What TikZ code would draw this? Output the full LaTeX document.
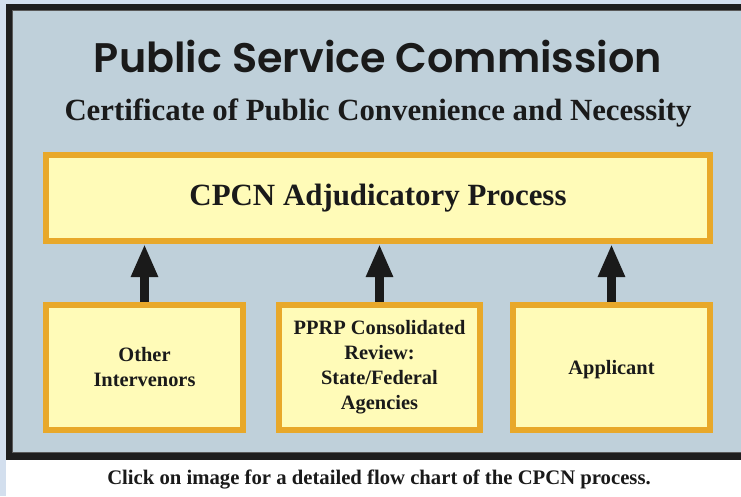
\documentclass[tikz,border=0pt]{standalone}
\usepackage{fontspec}
\setmainfont{Liberation Serif}
\newfontfamily\titlefont{Poppins}[UprightFont=* SemiBold]
\usetikzlibrary{arrows.meta}
\definecolor{outerbg}{HTML}{D3DFEE}
\definecolor{panel}{HTML}{BFD0DA}
\definecolor{frame}{HTML}{1E1E1E}
\definecolor{boxfill}{HTML}{FFFBB8}
\definecolor{boxline}{HTML}{E8A82A}
\definecolor{ink}{HTML}{1A1A1A}
\tikzset{
  procbox/.style={draw=boxline, line width=6pt, fill=boxfill, inner sep=0pt, outer sep=3pt,
    text=ink, font=\bfseries\fontsize{20.4}{25}\selectfont, align=center},
  uparrow/.style={draw=ink, line width=9pt, -{Triangle[width=25pt,length=33pt]}},
}
\begin{document}
\begin{tikzpicture}[x=1pt,y=-1pt]
\useasboundingbox (0,0) rectangle (741,496);
% background
\fill[white] (0,0) rectangle (741,496);
\fill[outerbg] (0,0) rectangle (741,4);
\fill[outerbg] (0,0) rectangle (6,496);
% frame and panel
\fill[frame] (6,4) rectangle (745,460);
\fill[panel] (12,10) rectangle (745,453);
\draw[gray!70!black, line width=0.8pt] (12.4,10.4) -- (745,10.4);
\draw[gray!70!black, line width=0.8pt] (12.4,10.4) -- (12.4,452.6) -- (745,452.6);
% titles
\node[text=ink, font=\titlefont\fontsize{41.3}{46}\selectfont] (title) at (378,56) {Public Service Commission};
\node[text=ink, font=\bfseries\fontsize{30.8}{36}\selectfont] (subtitle) at (378,113) {Certificate of Public Convenience and Necessity};
% boxes
\node[procbox, minimum width=664pt, minimum height=86pt, font=\bfseries\fontsize{30.9}{36}\selectfont] (main) at (378,198) {CPCN Adjudicatory Process};
\node[procbox, minimum width=197pt, minimum height=125pt] (other) at (144.5,367.5) {Other\\Intervenors};
\node[procbox, minimum width=201pt, minimum height=125pt] (pprp) at (379.5,367) {PPRP Consolidated\\Review:\\State/Federal\\Agencies};
\node[procbox, minimum width=197pt, minimum height=125pt] (app) at (611.5,367) {\raisebox{0pt}[\height][0pt]{Applicant}};
% arrows
\draw[uparrow] (other.north) -- (other.north |- main.south);
\draw[uparrow] (pprp.north) -- (pprp.north |- main.south);
\draw[uparrow] (app.north) -- (app.north |- main.south);
% caption
\node[text=ink, font=\bfseries\fontsize{20.7}{24}\selectfont] (caption) at (379,479) {Click on image for a detailed flow chart of the CPCN process.};
\end{tikzpicture}
\end{document}
